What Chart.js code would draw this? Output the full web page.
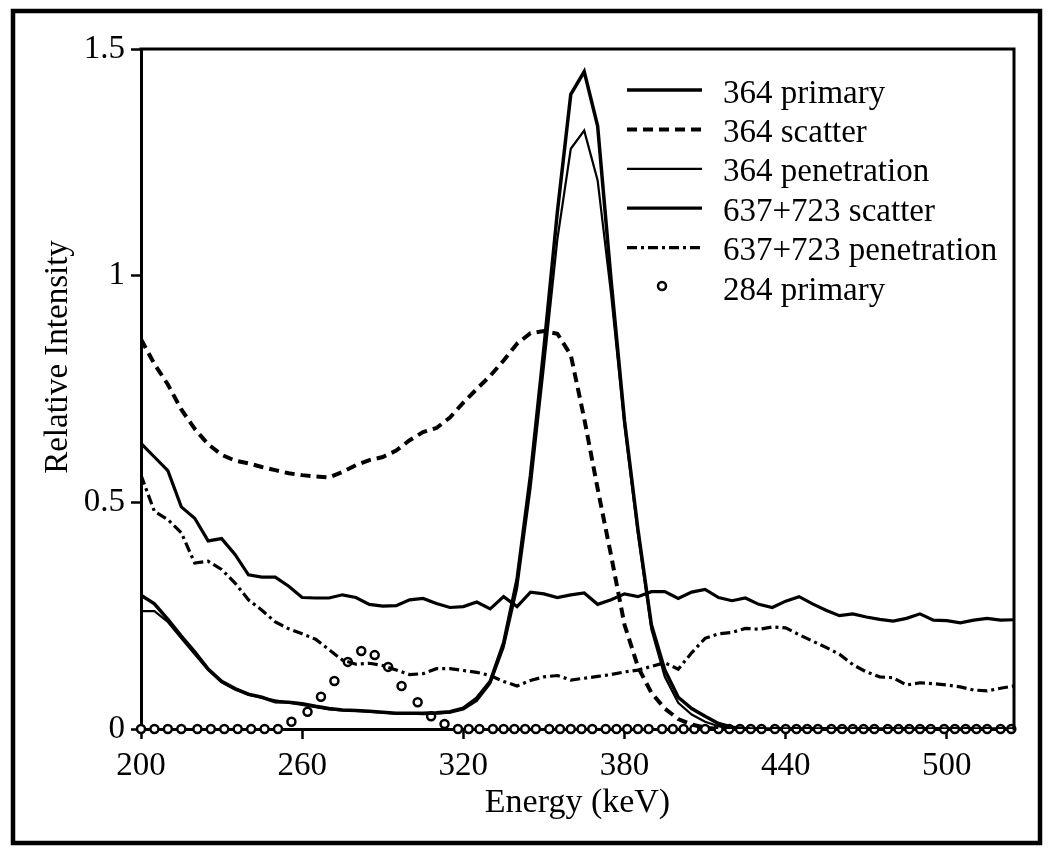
<!DOCTYPE html>
<html>
<head>
<meta charset="utf-8">
<script src="https://cdn.jsdelivr.net/npm/chart.js@4.4.1/dist/chart.umd.min.js"></script>
<style>
  html, body { margin: 0; padding: 0; background: #fff; }
  canvas { display: block; }
</style>
</head>
<body>
<canvas id="spectrum" width="1050" height="852"></canvas>
<script>
// energies (keV) for the five curves
const energy = [
  200, 205, 210, 215, 220, 225, 230, 235, 240, 245,
  250, 255, 260, 265, 270, 275, 280, 285, 290, 295,
  300, 305, 310, 315, 320, 325, 330, 335, 340, 345,
  350, 355, 360, 365, 370, 375, 380, 385, 390, 395,
  400, 405, 410, 415, 420, 425, 430, 435, 440, 445,
  450, 455, 460, 465, 470, 475, 480, 485, 490, 495,
  500, 505, 510, 515, 520, 525
];

const primary364 = [
  0.295, 0.276, 0.242, 0.205, 0.170, 0.132, 0.105, 0.089, 0.077, 0.070,
  0.060, 0.059, 0.056, 0.050, 0.045, 0.042, 0.041, 0.039, 0.037, 0.035,
  0.035, 0.035, 0.036, 0.038, 0.046, 0.068, 0.105, 0.190, 0.330, 0.560,
  0.840, 1.140, 1.400, 1.450, 1.330, 0.990, 0.680, 0.440, 0.230, 0.130,
  0.070, 0.045, 0.028, 0.012, 0.004, 0, 0, 0, 0, 0,
  0, 0, 0, 0, 0, 0, 0, 0, 0, 0,
  0, 0, 0, 0, 0, 0
];

const scatter364 = [
  0.860, 0.805, 0.760, 0.705, 0.662, 0.628, 0.605, 0.592, 0.586, 0.578,
  0.571, 0.564, 0.560, 0.557, 0.555, 0.567, 0.582, 0.593, 0.600, 0.614,
  0.637, 0.655, 0.664, 0.687, 0.720, 0.750, 0.779, 0.813, 0.850, 0.873,
  0.878, 0.872, 0.825, 0.685, 0.530, 0.383, 0.230, 0.137, 0.080, 0.045,
  0.022, 0.010, 0.003, 0, 0, 0, 0, 0, 0, 0,
  0, 0, 0, 0, 0, 0, 0, 0, 0, 0,
  0, 0, 0, 0, 0, 0
];

const penetration364 = [
  0.260, 0.260, 0.236, 0.200, 0.165, 0.130, 0.103, 0.087, 0.075, 0.069,
  0.063, 0.058, 0.053, 0.048, 0.043, 0.041, 0.040, 0.038, 0.036, 0.034,
  0.034, 0.033, 0.034, 0.036, 0.043, 0.062, 0.100, 0.180, 0.310, 0.530,
  0.800, 1.080, 1.280, 1.320, 1.210, 0.960, 0.670, 0.430, 0.220, 0.115,
  0.058, 0.032, 0.016, 0.006, 0, 0, 0, 0, 0, 0,
  0, 0, 0, 0, 0, 0, 0, 0, 0, 0,
  0, 0, 0, 0, 0, 0
];

const scatter637 = [
  0.630, 0.600, 0.570, 0.490, 0.465, 0.415, 0.420, 0.385, 0.340, 0.335,
  0.335, 0.315, 0.290, 0.289, 0.289, 0.296, 0.290, 0.275, 0.271, 0.272,
  0.285, 0.288, 0.277, 0.268, 0.270, 0.280, 0.265, 0.292, 0.270, 0.302,
  0.298, 0.290, 0.296, 0.300, 0.275, 0.285, 0.298, 0.292, 0.303, 0.303,
  0.288, 0.302, 0.308, 0.290, 0.283, 0.289, 0.275, 0.268, 0.282, 0.292,
  0.276, 0.262, 0.250, 0.254, 0.247, 0.242, 0.238, 0.244, 0.254, 0.240,
  0.239, 0.234, 0.240, 0.244, 0.240, 0.241
];

const penetration637 = [
  0.560, 0.480, 0.462, 0.433, 0.366, 0.370, 0.352, 0.322, 0.285, 0.262,
  0.236, 0.221, 0.210, 0.198, 0.175, 0.152, 0.143, 0.145, 0.140, 0.130,
  0.120, 0.122, 0.133, 0.133, 0.129, 0.125, 0.118, 0.105, 0.095, 0.107,
  0.115, 0.118, 0.108, 0.112, 0.116, 0.120, 0.126, 0.130, 0.138, 0.146,
  0.132, 0.168, 0.200, 0.210, 0.213, 0.222, 0.220, 0.225, 0.223, 0.208,
  0.194, 0.180, 0.165, 0.142, 0.126, 0.115, 0.113, 0.097, 0.102, 0.100,
  0.097, 0.093, 0.086, 0.084, 0.090, 0.095
];

// the 284 keV markers sit on their own energy grid
const energy284 = [
  200, 205, 210, 215, 221, 226, 231, 236, 241, 246,
  251, 256, 262, 267, 272, 277, 282, 287, 292, 297,
  303, 308, 313, 318, 322, 326, 331, 335, 339, 343,
  347, 352, 356, 360, 364, 368, 373, 377, 381, 385,
  389, 394, 398, 402, 406, 410, 415, 419, 423, 427,
  431, 436, 440, 444, 448, 452, 457, 461, 465, 469,
  473, 478, 482, 486, 490, 494, 499, 503, 507, 511,
  515, 520, 524
];

const primary284 = [
  0, 0, 0, 0, 0, 0, 0, 0, 0, 0,
  0, 0.016, 0.038, 0.071, 0.106, 0.148, 0.172, 0.163, 0.137, 0.095,
  0.059, 0.028, 0.011, 0, 0, 0, 0, 0, 0, 0,
  0, 0, 0, 0, 0, 0, 0, 0, 0, 0,
  0, 0, 0, 0, 0, 0, 0, 0, 0, 0,
  0, 0, 0, 0, 0, 0, 0, 0, 0, 0,
  0, 0, 0, 0, 0, 0, 0, 0, 0, 0,
  0, 0, 0
];

const seriesNames = ['364 primary', '364 scatter', '364 penetration',
  '637+723 scatter', '637+723 penetration', '284 primary'];
const xTicks = [200, 260, 320, 380, 440, 500];
const yTicks = [0, 0.5, 1, 1.5];

const serif = "'Liberation Serif', 'Times New Roman', serif";

function pairs(xs, ys) {
  return xs.map((x, i) => ({ x: x, y: ys[i] }));
}

// box round the plot, outer frame, y title and the legend
const framePlugin = {
  id: 'frame',
  afterDraw(chart) {
    const ctx = chart.ctx;
    const a = chart.chartArea;
    ctx.save();
    ctx.strokeStyle = '#000';
    ctx.fillStyle = '#000';
    ctx.lineWidth = 3;
    ctx.beginPath();
    ctx.moveTo(a.left - 1.5, a.top);
    ctx.lineTo(a.right, a.top);
    ctx.lineTo(a.right, a.bottom + 1.5);
    ctx.stroke();

    ctx.lineWidth = 4.5;
    ctx.strokeRect(13, 11, 1027, 832);

    // y title
    ctx.save();
    ctx.font = '33px ' + serif;
    ctx.translate(67, 357);
    ctx.rotate(-Math.PI / 2);
    ctx.textAlign = 'center';
    ctx.textBaseline = 'alphabetic';
    ctx.fillText('Relative Intensity', 0, 0);
    ctx.restore();

    // legend
    ctx.font = '33px ' + serif;
    ctx.textAlign = 'left';
    ctx.textBaseline = 'middle';
    chart.data.datasets.forEach((ds, i) => {
      const y = 93 + i * 39.4;
      if (ds.showLine === false) {
        ctx.setLineDash([]);
        ctx.lineWidth = 2.5;
        ctx.beginPath();
        ctx.arc(662, y - 4, 4, 0, Math.PI * 2);
        ctx.fillStyle = '#fff';
        ctx.fill();
        ctx.stroke();
        ctx.fillStyle = '#000';
      } else {
        ctx.setLineDash(ds.borderDash || []);
        ctx.lineWidth = ds.borderWidth;
        ctx.beginPath();
        ctx.moveTo(627, y - 3);
        ctx.lineTo(702, y - 3);
        ctx.stroke();
      }
      ctx.setLineDash([]);
      ctx.fillText(ds.label, 723, y + 1);
    });
    ctx.restore();
  }
};

new Chart(document.getElementById('spectrum'), {
  type: 'line',
  data: {
    datasets: [
      { label: seriesNames[0], data: pairs(energy, primary364), borderColor: '#000', borderWidth: 3.5 },
      { label: seriesNames[1], data: pairs(energy, scatter364), borderColor: '#000', borderWidth: 4, borderDash: [10, 6] },
      { label: seriesNames[2], data: pairs(energy, penetration364), borderColor: '#000', borderWidth: 2.2 },
      { label: seriesNames[3], data: pairs(energy, scatter637), borderColor: '#000', borderWidth: 3.2 },
      { label: seriesNames[4], data: pairs(energy, penetration637), borderColor: '#000', borderWidth: 3.2, borderDash: [10, 4, 3, 4] },
      {
        label: seriesNames[5], data: pairs(energy284, primary284), showLine: false,
        pointRadius: 4, pointBorderWidth: 2.5, pointBorderColor: '#000',
        pointBackgroundColor: '#fff', clip: false
      }
    ]
  },
  options: {
    responsive: false,
    animation: false,
    devicePixelRatio: 1,
    events: [],
    layout: { padding: { left: 0, top: 49, right: 36, bottom: 0 } },
    elements: {
      line: { tension: 0, fill: false },
      point: { radius: 0 }
    },
    plugins: {
      legend: { display: false },
      tooltip: { enabled: false }
    },
    scales: {
      x: {
        type: 'linear',
        min: 200,
        max: 525,
        afterFit(scale) { scale.height = 123; },
        afterBuildTicks(scale) { scale.ticks = xTicks.map(v => ({ value: v })); },
        grid: { drawOnChartArea: false, tickLength: 10, tickWidth: 2.5, color: '#000' },
        border: { color: '#000', width: 3 },
        ticks: {
          callback: v => String(v),
          font: { family: serif, size: 33 },
          color: '#000',
          padding: 8,
          maxRotation: 0,
          autoSkip: false
        },
        title: {
          display: true,
          text: 'Energy (keV)',
          font: { family: serif, size: 34 },
          color: '#000',
          padding: { top: 0, bottom: 29 }
        }
      },
      y: {
        type: 'linear',
        min: 0,
        max: 1.5,
        afterFit(scale) { scale.width = 141; },
        afterBuildTicks(scale) { scale.ticks = yTicks.map(v => ({ value: v })); },
        grid: { drawOnChartArea: false, tickLength: 10, tickWidth: 2.5, color: '#000' },
        border: { color: '#000', width: 3 },
        ticks: {
          callback: v => String(v),
          font: { family: serif, size: 33 },
          color: '#000',
          padding: 6
        }
      }
    }
  },
  plugins: [framePlugin]
});
</script>
</body>
</html>
